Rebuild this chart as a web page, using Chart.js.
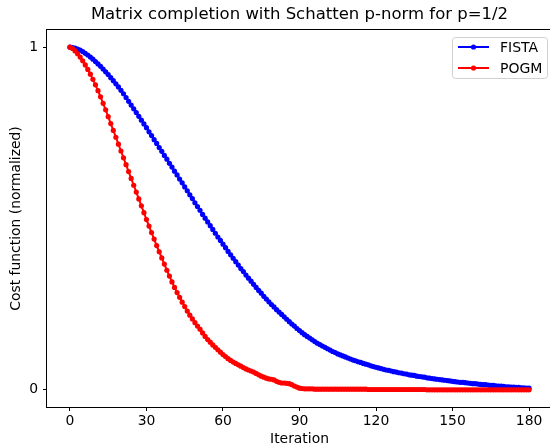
<!DOCTYPE html>
<html>
<head>
<meta charset="utf-8">
<script src="https://cdn.jsdelivr.net/npm/chart.js@4.4.1/dist/chart.umd.min.js"></script>
<style>
    html, body { margin: 0; padding: 0; background: #fff; overflow: hidden; }
    #wrap { width: 550px; height: 448px; overflow: hidden; position: relative; }
    #chartCost { position: absolute; left: 0; top: 0; }
</style>
</head>
<body>
<div id="wrap"><canvas id="chartCost" width="556" height="448"></canvas></div>
<script>
// nilai cost (dinormalisasi) per iterasi
const fistaCost = [
    1.000,0.999,0.997,0.994,0.991,0.987,0.982,0.977,0.971,0.965,
    0.958,0.951,0.944,0.936,0.928,0.920,0.911,0.902,0.893,0.884,
    0.874,0.864,0.853,0.842,0.831,0.820,0.809,0.798,0.787,0.776,
    0.765,0.753,0.742,0.730,0.719,0.707,0.696,0.684,0.673,0.661,
    0.650,0.638,0.627,0.615,0.604,0.592,0.581,0.569,0.558,0.546,
    0.535,0.524,0.512,0.501,0.490,0.479,0.468,0.457,0.446,0.436,
    0.425,0.415,0.404,0.394,0.384,0.374,0.364,0.354,0.345,0.335,
    0.326,0.317,0.308,0.299,0.290,0.282,0.273,0.265,0.257,0.249,
    0.242,0.234,0.227,0.220,0.213,0.206,0.199,0.192,0.186,0.179,
    0.173,0.167,0.161,0.156,0.151,0.146,0.141,0.136,0.132,0.128,
    0.124,0.120,0.116,0.112,0.109,0.105,0.102,0.099,0.096,0.093,
    0.090,0.087,0.085,0.082,0.080,0.077,0.075,0.073,0.070,0.068,
    0.066,0.064,0.062,0.060,0.058,0.057,0.055,0.053,0.052,0.050,
    0.049,0.047,0.046,0.044,0.043,0.042,0.040,0.039,0.038,0.037,
    0.035,0.034,0.033,0.032,0.031,0.030,0.029,0.028,0.027,0.026,
    0.025,0.024,0.023,0.022,0.022,0.021,0.020,0.019,0.018,0.018,
    0.017,0.016,0.015,0.015,0.014,0.013,0.013,0.012,0.011,0.011,
    0.010,0.009,0.009,0.008,0.008,0.007,0.007,0.006,0.006,0.005,
    0.005
];

const pogmCost = [
    1.000,0.996,0.989,0.981,0.971,0.960,0.948,0.935,0.921,0.906,
    0.890,0.873,0.855,0.836,0.817,0.797,0.777,0.757,0.737,0.717,
    0.697,0.677,0.657,0.637,0.617,0.597,0.577,0.557,0.537,0.517,
    0.497,0.478,0.459,0.440,0.421,0.403,0.385,0.367,0.349,0.332,
    0.315,0.299,0.284,0.270,0.256,0.243,0.230,0.218,0.207,0.196,
    0.186,0.177,0.166,0.156,0.147,0.139,0.131,0.124,0.117,0.110,
    0.103,0.097,0.091,0.086,0.081,0.077,0.073,0.069,0.065,0.061,
    0.058,0.055,0.052,0.048,0.044,0.040,0.037,0.034,0.032,0.031,
    0.029,0.025,0.022,0.020,0.020,0.019,0.018,0.015,0.011,0.008,
    0.005,0.004,0.003,0.003,0.003,0.003,0.002,0.002,0.002,0.002,
    0.002,0.002,0.002,0.002,0.002,0.002,0.002,0.002,0.002,0.002,
    0.002,0.002,0.002,0.002,0.002,0.002,0.002,0.001,0.001,0.001,
    0.001,0.001,0.001,0.001,0.001,0.001,0.001,0.001,0.001,0.001,
    0.001,0.001,0.001,0.001,0.001,0.001,0.001,0.001,0.001,0.001,
    0.000,0.000,0.000,0.000,0.000,0.000,0.000,0.000,0.000,0.000,
    0.000,0.000,0.000,0.000,0.000,0.000,0.000,0.000,0.000,0.000,
    0.000,0.000,0.000,0.000,0.000,0.000,0.000,0.000,0.000,0.000,
    0.000,0.000,0.000,0.000,0.000,0.000,0.000,0.000,0.000,0.000,
    0.000
];

const xTicks = [0, 30, 60, 90, 120, 150, 180];
const yTicks = [0, 1];
const seriesNames = ['FISTA', 'POGM'];
const seriesColors = ['#0000ff', '#ff0000'];
const chartTitle = 'Matrix completion with Schatten p-norm for p=1/2';

const FONT = "'DejaVu Sans', sans-serif";

function toPoints(values) {
    return values.map((v, i) => ({ x: i, y: v }));
}

// judul, spines kotak + legend ala matplotlib
const framePlugin = {
    id: 'frame',
    afterDraw(chart) {
        const { ctx, chartArea: a } = chart;
        ctx.save();
        ctx.fillStyle = '#000';
        ctx.font = '16.5px ' + FONT;
        ctx.textAlign = 'center';
        ctx.textBaseline = 'middle';
        ctx.fillText(chartTitle, (a.left + a.right) / 2, 15);

        ctx.strokeStyle = '#000';
        ctx.lineWidth = 1;
        ctx.strokeRect(Math.round(a.left) - 0.5, Math.round(a.top) - 0.5,
            Math.round(a.right - a.left) + 1, Math.round(a.bottom - a.top) + 1);

        // legend
        const bx = 452.5, by = 37.5, bw = 95, bh = 41;
        ctx.beginPath();
        ctx.roundRect(bx, by, bw, bh, 3);
        ctx.fillStyle = 'rgba(255,255,255,0.8)';
        ctx.fill();
        ctx.strokeStyle = '#d0d0d0';
        ctx.stroke();
        ctx.font = '14px ' + FONT;
        ctx.textAlign = 'left';
        seriesNames.forEach((name, i) => {
            const y = 47 + i * 21;
            ctx.strokeStyle = seriesColors[i];
            ctx.lineWidth = 2;
            ctx.beginPath();
            ctx.moveTo(458, y);
            ctx.lineTo(489, y);
            ctx.stroke();
            ctx.fillStyle = seriesColors[i];
            ctx.beginPath();
            ctx.arc(473.5, y, 2.6, 0, Math.PI * 2);
            ctx.fill();
            ctx.fillStyle = '#000';
            ctx.fillText(name, 500, y + 1);
        });
        ctx.restore();
    }
};

const ctx = document.getElementById('chartCost').getContext('2d');
let chartCost = new Chart(ctx, {
    type: 'line',
    data: {
        datasets: [
            {
                label: seriesNames[0],
                data: toPoints(fistaCost),
                borderColor: seriesColors[0],
                backgroundColor: seriesColors[0],
                borderWidth: 2,
                pointRadius: 2.6,
                pointBorderWidth: 0,
                tension: 0,
                order: 1
            },
            {
                label: seriesNames[1],
                data: toPoints(pogmCost),
                borderColor: seriesColors[1],
                backgroundColor: seriesColors[1],
                borderWidth: 2,
                pointRadius: 2.6,
                pointBorderWidth: 0,
                tension: 0,
                order: 0
            }
        ]
    },
    options: {
        responsive: false,
        animation: false,
        devicePixelRatio: 1,
        layout: { padding: { top: 30, left: 0, right: 0, bottom: 0 } },
        plugins: {
            legend: { display: false },
            tooltip: { enabled: false },
            title: { display: false }
        },
        scales: {
            x: {
                type: 'linear',
                min: -9,
                max: 189,
                afterBuildTicks: s => { s.ticks = xTicks.map(v => ({ value: v })); },
                afterFit: s => { s.height = 41; },
                grid: { drawOnChartArea: false, tickLength: 4, color: '#000' },
                border: { display: false },
                ticks: {
                    color: '#000',
                    padding: 2,
                    maxRotation: 0,
                    font: { family: FONT, size: 13.9 }
                },
                title: {
                    display: true,
                    text: 'Iteration',
                    color: '#000',
                    font: { family: FONT, size: 13.9 },
                    padding: { top: 4, bottom: 0 }
                }
            },
            y: {
                type: 'linear',
                min: -0.05,
                max: 1.05,
                afterBuildTicks: s => { s.ticks = yTicks.map(v => ({ value: v })); },
                afterFit: s => { s.width = 47; },
                grid: { drawOnChartArea: false, tickLength: 4, color: '#000' },
                border: { display: false },
                ticks: {
                    color: '#000',
                    padding: 5,
                    font: { family: FONT, size: 13.9 }
                },
                title: {
                    display: true,
                    text: 'Cost function (normalized)',
                    color: '#000',
                    font: { family: FONT, size: 13.9 },
                    padding: { top: 8, bottom: 0 }
                }
            }
        }
    },
    plugins: [framePlugin]
});
</script>
</body>
</html>
